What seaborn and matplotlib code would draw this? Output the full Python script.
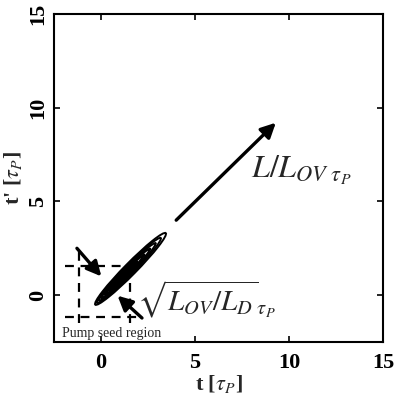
import numpy as np
import pandas as pd
import matplotlib
matplotlib.use("Agg")
import matplotlib.pyplot as plt
from matplotlib.patches import Ellipse
import seaborn as sns

# ---- data ----
ticks = [0, 5, 10, 15]
tick_labels = ["0", "5", "10", "15"]
xlim = [-2.5, 15]
ylim = [-2.5, 15]

# contour ellipses (centre x, centre y, full length, full width, angle)
ell_cx = [1.57, 1.48, 1.40, 1.32, 1.25, 1.18]
ell_cy = [1.40, 1.32, 1.24, 1.16, 1.09, 1.02]
ell_len = [5.35, 4.85, 4.3, 3.7, 3.0, 2.2]
ell_wid = [0.62, 0.50, 0.39, 0.29, 0.19, 0.09]
ell_ang = [45.5, 45.5, 45.5, 45.5, 45.5, 45.5]

# dashed "pump seed" box segments (x0, x1, y0, y1)
seg_x0 = [-1.9, -1.9, -1.17, 1.54]
seg_x1 = [2.2, 2.2, -1.17, 1.54]
seg_y0 = [1.54, -1.17, -1.5, -1.5]
seg_y1 = [1.54, -1.17, 2.4, 1.54]

# arrows (tail -> head)
arr_x0 = [4.0, -1.28, 2.18]
arr_y0 = [4.0, 2.5, -1.22]
arr_x1 = [9.3, 0.02, 0.88]
arr_y1 = [9.2, 1.0, -0.03]

sns.set_theme(style="ticks")
plt.rcParams["font.family"] = ["Liberation Serif", "DejaVu Serif"]
plt.rcParams["mathtext.fontset"] = "stix"

fig = plt.figure(figsize=(3.96, 3.96), dpi=100)
ax = fig.add_axes([54 / 396, 1 - 342 / 396, 329 / 396, 328 / 396])

# dashed box via seaborn
rows = []
for i in range(len(seg_x0)):
    rows.append({"x": seg_x0[i], "y": seg_y0[i], "seg": i})
    rows.append({"x": seg_x1[i], "y": seg_y1[i], "seg": i})
df = pd.DataFrame(rows)
sns.lineplot(data=df, x="x", y="y", units="seg", estimator=None, sort=False,
             color="black", lw=1.6, linestyle=(0, (4, 3)), ax=ax)

# contour ellipses
for cx, cy, L, W, a in zip(ell_cx, ell_cy, ell_len, ell_wid, ell_ang):
    ax.add_patch(Ellipse((cx, cy), L, W, angle=a, fill=False, ec="black", lw=1.4))

# arrows
for x0, y0, x1, y1 in zip(arr_x0, arr_y0, arr_x1, arr_y1):
    ax.annotate("", xy=(x1, y1), xytext=(x0, y0),
                arrowprops=dict(arrowstyle="-|>", color="black", lw=2.4,
                                mutation_scale=22, shrinkA=0, shrinkB=0))

ax.text(8.0, 6.65, r"$L/L_{OV\ \tau_P}$", fontsize=23, va="center", ha="left")
ax.text(1.9, -0.2, r"$\sqrt{L_{OV}/L_D}{}_{\tau_P}$", fontsize=21, va="center", ha="left")
ax.text(-2.05, -2.05, "Pump seed region", fontsize=10, va="center", ha="left")

ax.set_xlim(xlim)
ax.set_ylim(ylim)
ax.set_xticks(ticks)
ax.set_xticklabels(tick_labels, fontweight="bold")
ax.set_yticks(ticks)
ax.set_yticklabels(tick_labels, rotation=90, va="center", fontweight="bold")
ax.tick_params(direction="in", top=True, right=True, length=4, width=1.2,
               labelsize=16, colors="black")
ax.tick_params(axis="x", pad=8)
ax.tick_params(axis="y", pad=4)
for s in ax.spines.values():
    s.set_linewidth(1.5)
    s.set_color("black")
ax.set_xlabel(r"t [$\tau_P$]", fontsize=16, fontweight="bold", labelpad=0)
ax.set_ylabel(r"t' [$\tau_P$]", fontsize=16, fontweight="bold", labelpad=3)
ax.grid(False)

fig.savefig("out.png", dpi=100)
